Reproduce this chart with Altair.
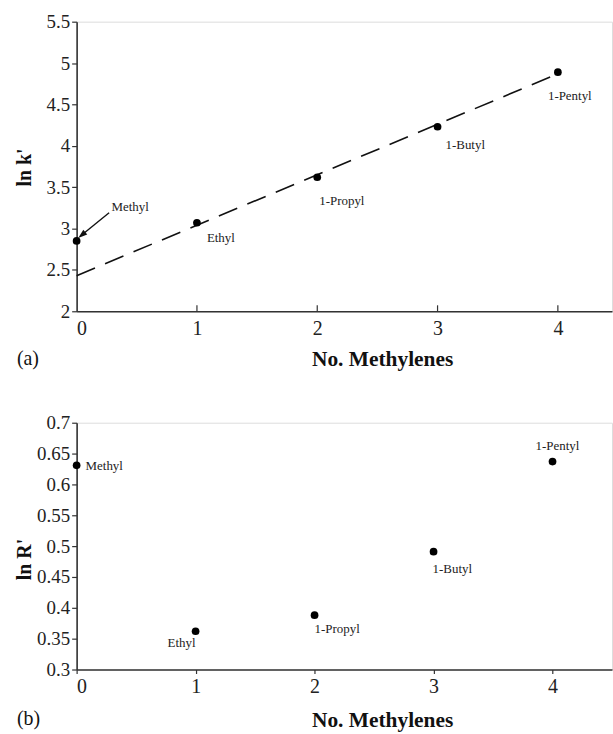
import altair as alt
import pandas as pd

# ---------------- data ----------------
groups = ["Methyl", "Ethyl", "1-Propyl", "1-Butyl", "1-Pentyl"]
methylenes = [0, 1, 2, 3, 4]
ln_k = [2.85, 3.07, 3.62, 4.23, 4.89]
ln_r = [0.631, 0.362, 0.388, 0.491, 0.637]
fit_x = [0, 4]
fit_y = [2.43, 4.87]
arrow_x = [0.27, 0.05]
arrow_y = [3.19, 2.93]
x_ticks = [0, 1, 2, 3, 4]
k_ticks = [2, 2.5, 3, 3.5, 4, 4.5, 5, 5.5]
r_ticks = [0.3, 0.35, 0.4, 0.45, 0.5, 0.55, 0.6, 0.65, 0.7]
panel_labels = ["(a)", "(b)"]
x_title = "No. Methylenes"
y_titles = ["ln k'", "ln R'"]

df = pd.DataFrame({"group": groups, "n": methylenes, "lnk": ln_k, "lnr": ln_r})
fit_df = pd.DataFrame({"n": fit_x, "lnk": fit_y})
arrow_df = pd.DataFrame({"n": arrow_x, "lnk": arrow_y})
tick_df = pd.DataFrame({"t": x_ticks[1:]})

SERIF = "Liberation Serif"
AXC = "#333333"

W = 538
HA = 291
HB = 248

# label offsets (px) per panel: (align, dx, dy)
off_a = {"Ethyl": ("left", 10, 15), "1-Propyl": ("left", 2, 24),
         "1-Butyl": ("left", 8, 18), "1-Pentyl": ("left", -10, 24)}
off_b = {"Methyl": ("left", 9, 1), "Ethyl": ("right", 0, 12),
         "1-Propyl": ("left", 0, 14), "1-Butyl": ("left", -1, 17),
         "1-Pentyl": ("center", 5, -16)}


def x_enc(dmax, title, tsize, ty):
    return alt.X("n:Q", scale=alt.Scale(domain=[0, dmax], nice=False, zero=False),
                 axis=alt.Axis(values=x_ticks, format="d", grid=False, tickSize=tsize,
                               tickColor=AXC, tickWidth=1.2,
                               labelFont=SERIF, labelFontSize=20, labelColor="#222",
                               labelPadding=7 - tsize, domainColor=AXC, domainWidth=1.6,
                               title=title, titleFont=SERIF, titleFontSize=21.5,
                               titleFontWeight="bold", titleColor="#111",
                               titleX=307, titleY=ty, titleBaseline="middle",
                               titleAlign="center"))


def y_axis(vals, title, ty):
    return alt.Axis(values=vals, format="~g", grid=False, tickSize=5, tickColor=AXC,
                    tickWidth=1.2, labelFont=SERIF, labelFontSize=19, labelColor="#222",
                    labelPadding=2, domainColor=AXC, domainWidth=1.6,
                    title=title, titleFont=SERIF, titleFontSize=20,
                    titleFontWeight="bold", titleColor="#111",
                    titleX=-52, titleY=ty, titleBaseline="middle", titleAngle=-90)


# ---------------- panel (a) ----------------
xa = x_enc(4.45, x_title, 0, 48)
ya = alt.Y("lnk:Q", scale=alt.Scale(domain=[2, 5.5], nice=False, zero=False),
           axis=y_axis(k_ticks, y_titles[0], 146))

fit_line = alt.Chart(fit_df).mark_line(color="#111", strokeWidth=1.6,
                                       strokeDash=[20, 11]).encode(x=xa, y=ya)
pts_a = alt.Chart(df).mark_point(filled=True, color="#000", size=60, opacity=1).encode(x=xa, y=ya)
ticks_a = alt.Chart(tick_df).mark_rule(color=AXC, strokeWidth=1.2).encode(
    x=alt.X("t:Q", scale=alt.Scale(domain=[0, 4.45], nice=False)),
    y=alt.value(HA), y2=alt.value(HA - 6))
arrow_line = alt.Chart(arrow_df).mark_line(color="#111", strokeWidth=1.4).encode(x=xa, y=ya)
arrow_head = alt.Chart(arrow_df.iloc[[1]]).mark_point(
    shape="M0,-1L0.55,0.6L-0.55,0.6Z", filled=True, color="#111", size=130,
    angle=231, opacity=1).encode(x=xa, y=ya)
methyl_a = alt.Chart(df).transform_filter(alt.datum.group == "Methyl").mark_text(
    align="left", baseline="middle", dx=35, dy=-34, font=SERIF, fontSize=13,
    color="#222").encode(x=xa, y=ya, text="group:N")

lab_a = []
for g, (al, dx, dy) in off_a.items():
    lab_a.append(alt.Chart(df).transform_filter(alt.datum.group == g).mark_text(
        align=al, baseline="middle", dx=dx, dy=dy, font=SERIF, fontSize=13,
        color="#222").encode(x=xa, y=ya, text="group:N"))

panel_a = alt.Chart(pd.DataFrame({"p": [panel_labels[0]]})).mark_text(
    align="left", baseline="middle", font=SERIF, fontSize=20, color="#111").encode(
    x=alt.value(-60), y=alt.value(HA + 48), text="p:N")

chart_a = alt.layer(fit_line, ticks_a, arrow_line, arrow_head, pts_a, methyl_a,
                    *lab_a, panel_a).properties(width=W, height=HA)

# ---------------- panel (b) ----------------
xb = x_enc(4.5, x_title, 4, 51)
yb = alt.Y("lnr:Q", scale=alt.Scale(domain=[0.3, 0.7], nice=False, zero=False),
           axis=y_axis(r_ticks, y_titles[1], 137))

pts_b = alt.Chart(df).mark_point(filled=True, color="#000", size=60, opacity=1).encode(x=xb, y=yb)
lab_b = []
for g, (al, dx, dy) in off_b.items():
    lab_b.append(alt.Chart(df).transform_filter(alt.datum.group == g).mark_text(
        align=al, baseline="middle", dx=dx, dy=dy, font=SERIF, fontSize=13,
        color="#222").encode(x=xb, y=yb, text="group:N"))
panel_b = alt.Chart(pd.DataFrame({"p": [panel_labels[1]]})).mark_text(
    align="left", baseline="middle", font=SERIF, fontSize=20, color="#111").encode(
    x=alt.value(-60), y=alt.value(HB + 50), text="p:N")

chart_b = alt.layer(pts_b, *lab_b, panel_b).properties(width=W, height=HB)

chart = alt.vconcat(chart_a, chart_b, spacing=43).properties(
    padding={"left": 14, "top": 10, "right": 0, "bottom": 0}
).configure_view(stroke=None).configure(background="white")

chart.save("out.html", embed_options={"renderer": "svg", "actions": False})
